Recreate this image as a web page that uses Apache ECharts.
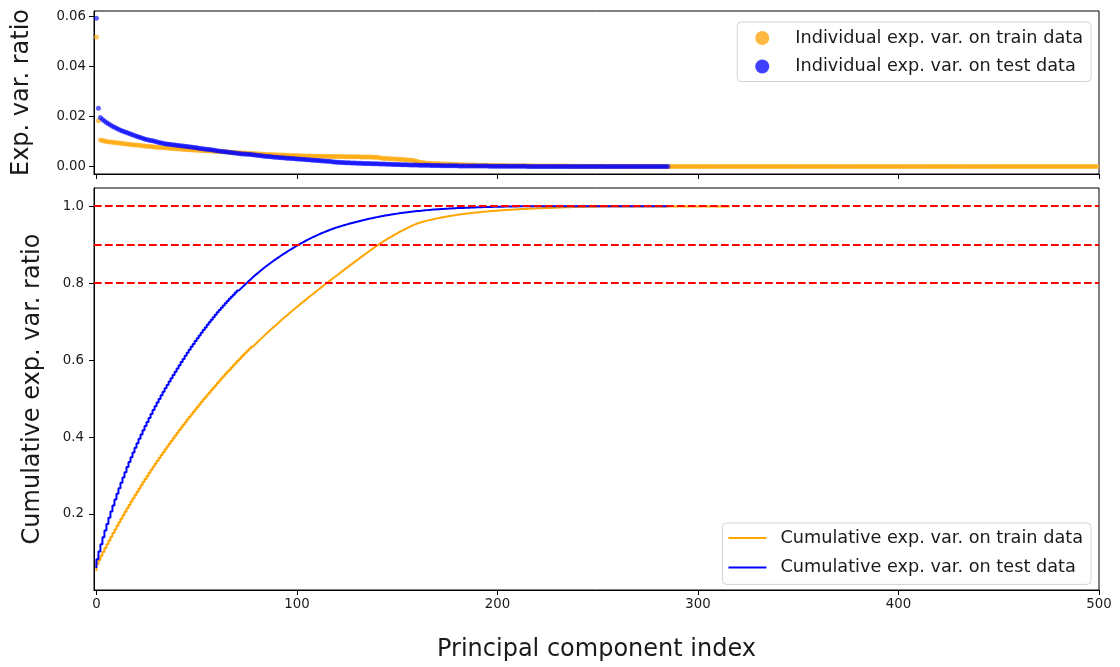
<!DOCTYPE html>
<html>
<head>
<meta charset="utf-8">
<script src="https://cdn.jsdelivr.net/npm/echarts@6/dist/echarts.min.js"></script>
<style>
html,body{margin:0;padding:0;background:#ffffff;}
#chart{width:1120px;height:667px;}
</style>
</head>
<body>
<div id="chart"></div>
<script>
// ---- tick labels ----
const xTicks = [0, 100, 200, 300, 400, 500];
const individualTicks = [0, 0.02, 0.04, 0.06];
const cumulativeTicks = [0.2, 0.4, 0.6, 0.8, 1.0];
const thresholds = [0.8, 0.9, 1.0];

// ---- series names ----
const trainScatterName = 'Individual exp. var. on train data';
const testScatterName = 'Individual exp. var. on test data';
const trainLineName = 'Cumulative exp. var. on train data';
const testLineName = 'Cumulative exp. var. on test data';

// ---- individual explained variance ratio per component, in units of 1e-4 ----
const trainIndividual = [
  519,183,106,104,102,100,99,98,97,96,95,94,93,92,91,90,89,88,87,86,
  86,85,84,83,82,81,81,80,79,78,77,77,76,75,75,74,73,73,72,71,
  71,70,70,69,68,68,67,67,66,66,65,65,64,64,63,63,62,62,61,61,60,60,59,59,59,58,58,57,57,56,56,55,55,
  54,54,53,53,52,52,51,51,50,50,49,49,48,48,48,47,47,47,46,46,46,45,45,45,44,44,44,
  43,43,43,42,42,42,42,42,41,41,41,41,41,41,41,41,
  40,40,40,40,40,40,40,40,39,39,39,39,39,39,39,39,38,38,38,38,38,38,37,37,37,
  35,34,33,32,32,31,31,30,30,29,29,28,28,27,26,26,25,24,
  22,20,18,16,15,14,13,13,12,12,11,11,11,10,10,10,9,
  9,9,8,8,8,7,7,7,7,6,6,6,6,6,5,5,5,
  5,5,5,4,4,4,4,4,4,4,4,4,3,3,3,3,3,3,3,3,3,3,3,3,2,2,2,2,2,2,2,2,2,2,2,2,2,2,2,2,2,2,2,
  1,1,1,1,1,1,1,1,1,1,1,1,1,1,1,1,1,1,
  0,0,0,0,0,0,0,0,0,0,0,0,0,0,0,0,0,0,0,0,
  0,0,0,0,0,0,0,0,0,0,0,0,0,0,0,0,0,0,0,0,
  0,0,0,0,0,0,0,0,0,0,0,0,0,0,0,0,0,0,0,0,
  0,0,0,0,0,0,0,0,0,0,0,0,0,0,0,0,0,0,0,0,
  0,0,0,0,0,0,0,0,0,0,0,0,0,0,0,0,0,0,0,0,
  0,0,0,0,0,0,0,0,0,0,0,0,0,0,0,0,0,0,0,0,
  0,0,0,0,0,0,0,0,0,0,0,0,0,0,0,0,0,0,0,0,
  0,0,0,0,0,0,0,0,0,0,0,0,0,0,0,0,0,0,0,0,
  0,0,0,0,0,0,0,0,0,0,0,0,0,0,0,0,0,0,0,0,
  0,0,0,0,0,0,0,0,0,0,0,0,0,0,0,0,0,0,0,0,
  0,0,0,0,0,0,0,0,0,0,0,0,0,0,0,0,0,0,0,0,
  0,0,0,0,0,0,0,0,0,0,0,0,0,0,0,0,0,0,0,0,
  0,0,0,0,0,0
];
const testIndividual = [
  594,233,196,188,182,176,171,166,
  161,157,153,149,145,142,139,136,133,130,127,124,121,118,116,
  113,110,108,106,104,103,101,99,96,95,93,91,90,89,88,87,86,85,
  84,83,82,81,80,79,78,77,76,75,73,72,71,70,69,68,67,66,
  65,63,62,61,60,59,58,57,56,55,54,53,52,51,50,50,49,
  49,48,47,46,45,44,43,42,41,40,40,39,38,37,37,36,35,35,34,33,33,32,32,31,30,30,29,
  29,28,27,27,26,25,25,24,24,23,22,22,21,21,20,
  18,18,17,17,16,16,15,15,15,14,14,14,13,13,13,12,12,12,12,11,11,11,11,10,10,
  10,10,9,9,9,8,8,8,8,7,7,7,7,6,6,6,6,6,5,5,5,5,5,5,4,
  4,4,4,4,3,3,3,3,3,3,3,3,3,
  2,2,2,2,2,2,2,2,2,2,2,2,2,2,2,
  1,1,1,1,1,1,1,1,1,1,1,1,1,1,1,1,1,1,1,
  0,0,0,0,0,0,0,0,0,0,0,0,0,0,0,0,0,0,0,0,
  0,0,0,0,0,0,0,0,0,0,0,0,0,0,0,0,0,0,0,0,
  0,0,0,0,0,0,0,0,0,0,0,0,0,0,0,0,0,0,0,0,
  0,0,0,0,0,0,0,0,0,0,0
];
// the cumulative train curve is drawn only over its first 317 components (as in the picture)
const trainCumulativeShown = 317;

// ---- derived series ----
const UNIT = 1e-4;
const toPoints = arr => arr.map((v, i) => [i, v * UNIT]);
function cumulate(arr, n) {
  let s = 0; const out = [];
  for (let i = 0; i < n; i++) { s += arr[i]; out.push([i, s * UNIT]); }
  return out;
}

const FONT = 'DejaVu Sans';
const TXT = '#1a1a1a';
const ORANGE = '#FFA500';
const BLUE = '#0000FF';

const chart = echarts.init(document.getElementById('chart'), null, {renderer: 'canvas'});

const commonX = {
  type: 'value', min: -1.2, max: 500,
  axisLine: {show: true, onZero: false, lineStyle: {color: '#000', width: 1}},
  axisTick: {show: true, inside: false, length: 5, lineStyle: {color: '#000', width: 1}, customValues: xTicks},
  splitLine: {show: false}
};

const option = {
  animation: false,
  backgroundColor: '#ffffff',
  grid: [
    {left: 94, top: 11, width: 1005, height: 163, show: true, borderColor: '#000', borderWidth: 1, backgroundColor: 'transparent'},
    {left: 94, top: 188, width: 1005, height: 406, show: true, borderColor: '#000', borderWidth: 1, backgroundColor: 'transparent'}
  ],
  xAxis: [
    Object.assign({}, commonX, {gridIndex: 0, axisLabel: {show: false}}),
    Object.assign({}, commonX, {
      gridIndex: 1,
      axisLabel: {show: true, margin: 8, customValues: xTicks, fontFamily: FONT, fontSize: 13.3, color: TXT, formatter: v => String(Math.round(v))},
      name: 'Principal component index', nameLocation: 'middle', nameGap: 60,
      nameTextStyle: {fontFamily: FONT, fontSize: 24, color: TXT, align: 'center', verticalAlign: 'middle'}
    })
  ],
  yAxis: [
    {
      gridIndex: 0, type: 'value', min: -0.003, max: 0.0623,
      axisLine: {show: true, onZero: false, lineStyle: {color: '#000', width: 1}},
      axisTick: {show: true, length: 5, lineStyle: {color: '#000', width: 1}, customValues: individualTicks},
      axisLabel: {show: true, margin: 8, customValues: individualTicks, fontFamily: FONT, fontSize: 13.3, color: TXT, formatter: v => v.toFixed(2)},
      splitLine: {show: false},
      name: 'Exp. var. ratio', nameLocation: 'middle', nameRotate: 90, nameGap: 72,
      nameTextStyle: {fontFamily: FONT, fontSize: 24, color: TXT, align: 'center', verticalAlign: 'middle'}
    },
    {
      gridIndex: 1, type: 'value', min: 0.0025, max: 1.0474,
      axisLine: {show: true, onZero: false, lineStyle: {color: '#000', width: 1}},
      axisTick: {show: true, length: 5, lineStyle: {color: '#000', width: 1}, customValues: cumulativeTicks},
      axisLabel: {show: true, margin: 10, customValues: cumulativeTicks, fontFamily: FONT, fontSize: 13.3, color: TXT, formatter: v => v.toFixed(1)},
      splitLine: {show: false},
      name: 'Cumulative exp. var. ratio', nameLocation: 'middle', nameRotate: 90, nameGap: 61,
      nameTextStyle: {fontFamily: FONT, fontSize: 24, color: TXT, align: 'center', verticalAlign: 'middle'}
    }
  ],
  legend: [
    {
      data: [
        {name: trainScatterName, icon: 'circle', itemStyle: {color: 'rgb(255,184,64)', opacity: 1}},
        {name: testScatterName, icon: 'circle', itemStyle: {color: 'rgb(64,64,255)', opacity: 1}}
      ],
      orient: 'vertical', right: 29, top: 22,
      itemWidth: 14, itemHeight: 14, itemGap: 8.5,
      padding: [6, 8, 5, 18],
      backgroundColor: 'rgba(255,255,255,0.8)', borderColor: '#d3d3d3', borderWidth: 1, borderRadius: 4,
      textStyle: {fontFamily: FONT, fontSize: 17.7, lineHeight: 20, color: TXT, padding: [0, 0, 0, 21]}
    },
    {
      data: [
        {name: trainLineName, icon: 'rect', itemStyle: {color: ORANGE}},
        {name: testLineName, icon: 'rect', itemStyle: {color: BLUE}}
      ],
      orient: 'vertical', right: 29, top: 523,
      itemWidth: 38, itemHeight: 2, itemGap: 9.4,
      padding: [5, 8, 7, 6],
      backgroundColor: 'rgba(255,255,255,0.8)', borderColor: '#d3d3d3', borderWidth: 1, borderRadius: 4,
      textStyle: {fontFamily: FONT, fontSize: 17.7, lineHeight: 20, color: TXT, padding: [0, 0, 0, 9]}
    }
  ],
  series: [
    {
      name: trainScatterName, type: 'scatter', xAxisIndex: 0, yAxisIndex: 0,
      data: toPoints(trainIndividual), symbol: 'circle', symbolSize: 5,
      itemStyle: {color: 'rgba(255,165,0,0.78)'}, z: 2
    },
    {
      name: testScatterName, type: 'scatter', xAxisIndex: 0, yAxisIndex: 0,
      data: toPoints(testIndividual), symbol: 'circle', symbolSize: 5,
      itemStyle: {color: 'rgba(0,0,255,0.78)'}, z: 3
    },
    {
      name: trainLineName, type: 'line', xAxisIndex: 1, yAxisIndex: 1,
      data: cumulate(trainIndividual, trainCumulativeShown), step: 'start',
      showSymbol: false, symbol: 'none', lineStyle: {color: ORANGE, width: 2}, itemStyle: {color: ORANGE}, z: 2
    },
    {
      name: testLineName, type: 'line', xAxisIndex: 1, yAxisIndex: 1,
      data: cumulate(testIndividual, testIndividual.length), step: 'start',
      showSymbol: false, symbol: 'none', lineStyle: {color: BLUE, width: 2}, itemStyle: {color: BLUE}, z: 3
    },
    {
      name: 'thresholds', type: 'line', xAxisIndex: 1, yAxisIndex: 1, data: [], z: 5,
      markLine: {
        silent: true, symbol: ['none', 'none'], label: {show: false},
        lineStyle: {color: '#FF0000', width: 2, type: [7.7, 3.3]},
        data: thresholds.map(t => ({yAxis: t}))
      }
    }
  ]
};
chart.setOption(option);
</script>
</body>
</html>
